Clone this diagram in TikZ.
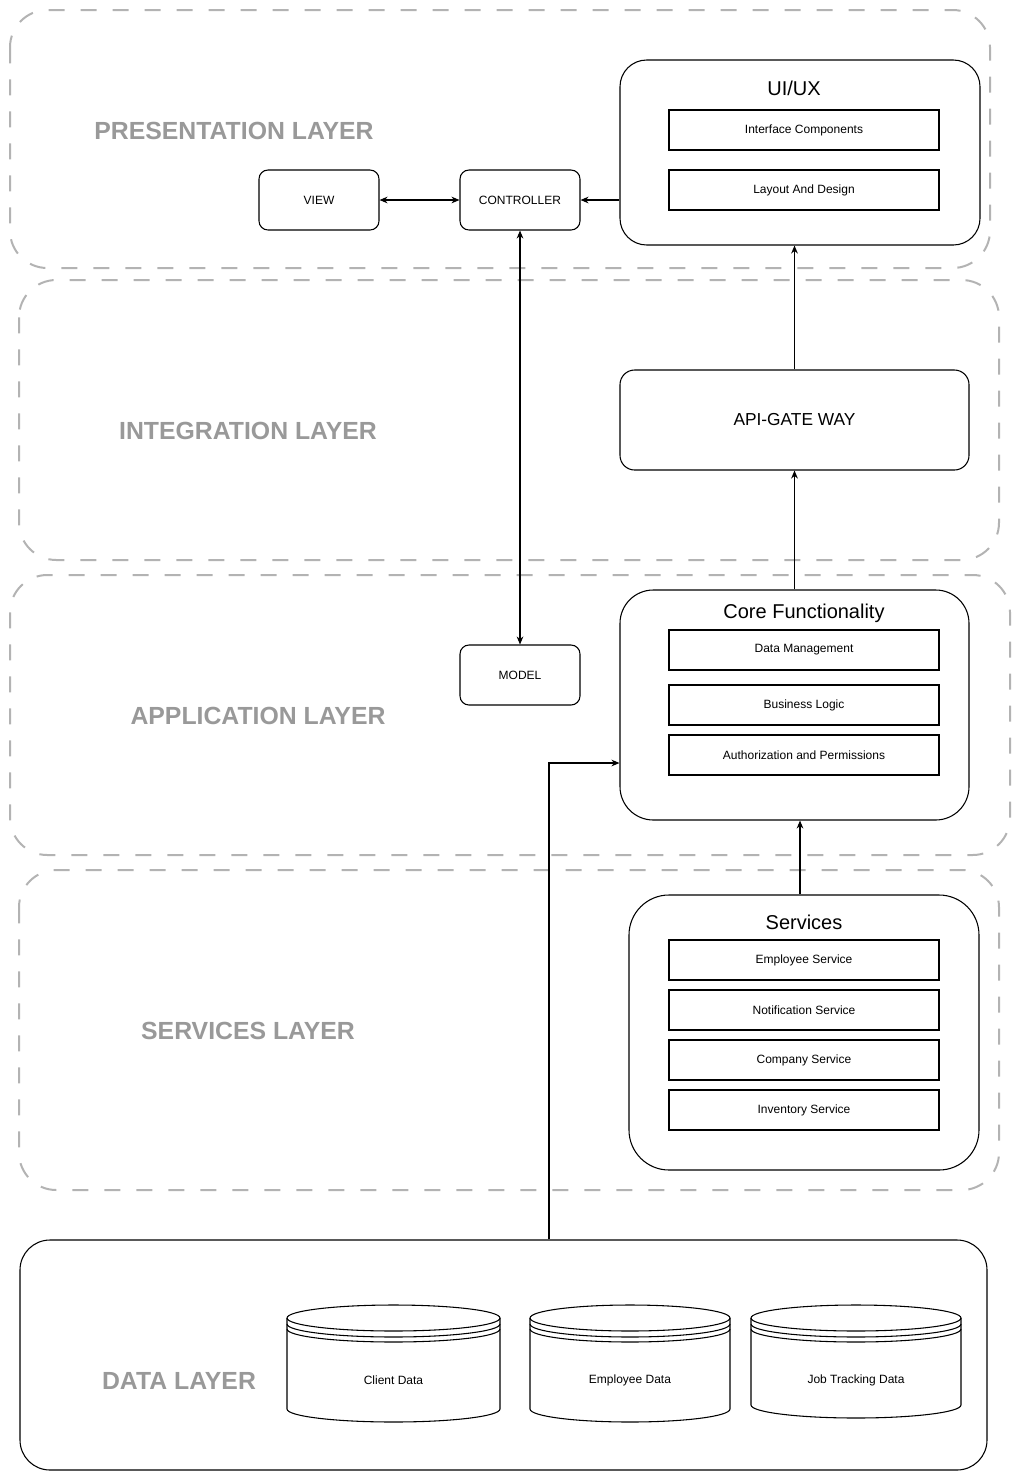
\documentclass[tikz,border=0pt]{standalone}
\usepackage{fontspec}
\setmainfont{Liberation Sans}
\usetikzlibrary{arrows.meta,positioning}
\definecolor{layergray}{HTML}{B3B3B3}
\definecolor{labelgray}{HTML}{999999}
\tikzset{
  layer/.style={draw=layergray,line width=1.5pt,dash pattern=on 12pt off 12pt,rounded corners=#1},
  layerlabel/.style={text=labelgray,font=\bfseries\fontsize{18.6}{21}\selectfont},
  block/.style={draw,line width=0.8pt,rounded corners=6.75pt,minimum width=90pt,minimum height=45pt,font=\fontsize{9}{11}\selectfont},
  group/.style={draw,line width=0.8pt,minimum width=261.75pt},
  grouptitle/.style={font=\fontsize{15}{18}\selectfont},
  item/.style={draw,line width=0.8pt,minimum width=202.5pt,minimum height=30pt,font=\fontsize{9}{11}\selectfont},
  dbtext/.style={font=\fontsize{9}{11}\selectfont},
  arr/.style={-{Stealth[length=6pt,width=5pt]},line width=0.8pt},
  arrboth/.style={{Stealth[length=6pt,width=5pt]}-{Stealth[length=6pt,width=5pt]},line width=0.8pt},
}
\begin{document}
\begin{tikzpicture}[x=0.75pt,y=-0.75pt]
\useasboundingbox (0,0) rectangle (1023,1482);
% layers
\draw[layer=28pt] (10,10) rectangle (990,268);
\draw[layer=28pt] (19,280) rectangle (999,560);
\draw[layer=28pt] (10,575) rectangle (1010,855);
\draw[layer=28pt] (19,870) rectangle (999,1190);
\node[layerlabel] (presentation) at (234,131) {PRESENTATION LAYER};
\node[layerlabel] (integration) at (248,431) {INTEGRATION LAYER};
\node[layerlabel] (application) at (258,716) {APPLICATION LAYER};
\node[layerlabel] (serviceslayer) at (248,1031) {SERVICES LAYER};

% presentation
\node[block] (view) at (319,200) {VIEW};
\node[block] (controller) at (520,200) {CONTROLLER};
\node[block] (model) at (520,675) {MODEL};
\node[group,minimum width=270pt,minimum height=138.75pt,rounded corners=20pt] (uiux) at (800,152.5) {};
\node[grouptitle] (uiuxtitle) at (794,88) {UI/UX};
\node[item] (interface) at (804,130) {Interface Components};
\node[item] (layout) at (804,190) {Layout And Design};

% integration
\node[group,minimum height=75pt,rounded corners=11pt,font=\fontsize{13}{16}\selectfont] (api) at (794.5,420) {API-GATE WAY};

% application
\node[group,minimum height=172.5pt,rounded corners=25pt] (core) at (794.5,705) {};
\node[grouptitle] (coretitle) at (804,613) {Core Functionality};
\foreach \y/\nm/\txt in {650/datamgmt/Data Management,705/logic/Business Logic,755/auth/Authorization and Permissions}
{
\node[item] (\nm) at (804,\y) {\txt};
}

% services
\node[group,minimum width=262.5pt,minimum height=206.25pt,rounded corners=30pt] (services) at (804,1032.5) {};
\node[grouptitle] (servicestitle) at (804,922) {Services};
\foreach \y/\nm/\txt in {960/employee/Employee Service,1010/notification/Notification Service,1060/company/Company Service,1110/inventory/Inventory Service}
{
\node[item] (\nm) at (804,\y) {\txt};
}

% data layer
\node[group,minimum width=725.25pt,minimum height=172.5pt,rounded corners=22.5pt] (datalayer) at (503.5,1355) {};
\node[layerlabel] (datalabel) at (179,1381) {DATA LAYER};
\foreach \xa/\xb/\yb/\nm/\txt in {287/500/1422/clientdb/Client Data,530/730/1422/employeedb/Employee Data,751/961/1418/jobdb/Job Tracking Data}
{
\pgfmathsetmacro\rx{(\xb-\xa)*0.375}
\draw[line width=0.8pt] (\xa,1318) arc[start angle=180,end angle=-180,x radius=\rx pt,y radius=9.75pt];
\draw[line width=0.8pt] (\xa,1318) -- (\xa,\yb-13) arc[start angle=180,end angle=360,x radius=\rx pt,y radius=9.75pt] -- (\xb,1318);
\foreach \d in {6,11}
\draw[line width=0.8pt] (\xa,1318+\d) arc[start angle=180,end angle=360,x radius=\rx pt,y radius=9.75pt];
\node[dbtext] (\nm) at ({(\xa+\xb)/2},1380) {\txt};
}

% connectors
\draw[arrboth] (view) -- (controller);
\draw[arr] (uiux.west |- controller) -- (controller.east);
\draw[arrboth] (controller) -- (model);
\draw[arr] (api.north) -- (api.north |- uiux.south);
\draw[arr] (core.north) -- (api.south);
\draw[arr] ([xshift=-3pt]services.north) -- ([xshift=-3pt]services.north |- core.south);
\coordinate (bend) at (549,763);
\draw[arr] (datalayer.north -| bend) -- (bend) -- (core.west |- bend);
\end{tikzpicture}
\end{document}
